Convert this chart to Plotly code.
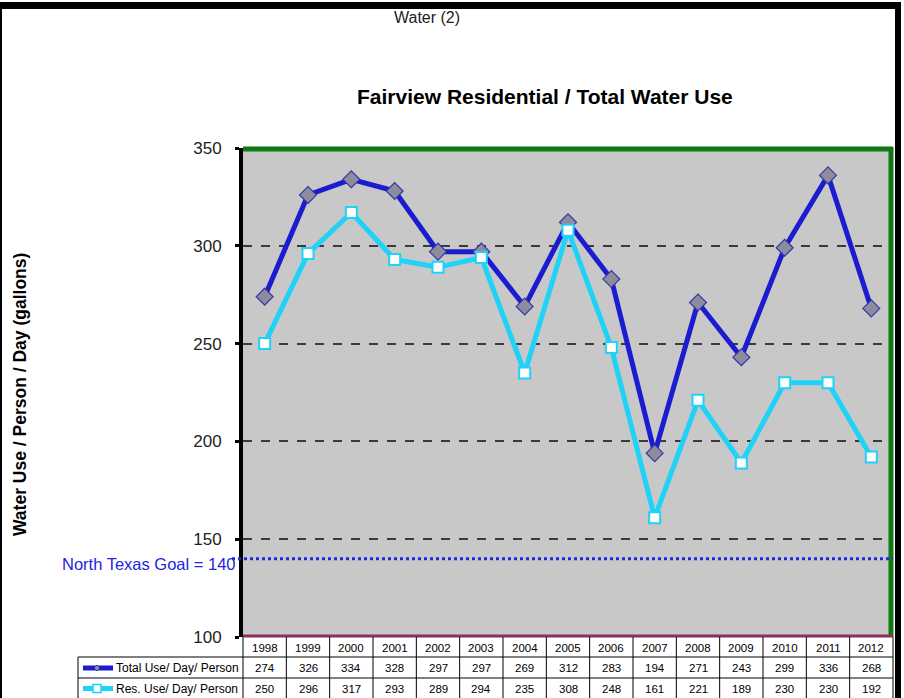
import plotly.graph_objects as go

years = ["1998", "1999", "2000", "2001", "2002", "2003", "2004", "2005",
         "2006", "2007", "2008", "2009", "2010", "2011", "2012"]
total_use = [274, 326, 334, 328, 297, 297, 269, 312, 283, 194, 271, 243, 299, 336, 268]
res_use = [250, 296, 317, 293, 289, 294, 235, 308, 248, 161, 221, 189, 230, 230, 192]
series_names = ["Total Use/ Day/ Person", "Res. Use/ Day/ Person"]
goal_value = 140
goal_label = "North Texas Goal = 140"
y_min, y_max = 100, 350

W, H = 904, 698
L, R, T, B = 243, 893, 148, 637  # plot area in pixels

def px(x):
    return (x - L) / (R - L)

def py(y):
    return (B - y) / (B - T)

FONT = "Liberation Sans, Arial, sans-serif"
BLUE = "#1b1bd0"
CYAN = "#1fd2f7"

fig = go.Figure()
fig.add_trace(go.Scatter(
    x=years, y=total_use, mode="lines+markers", name=series_names[0],
    line=dict(color=BLUE, width=5),
    marker=dict(symbol="diamond", size=13, color="#8c8c9c",
                line=dict(color="#3636a8", width=1.2)),
))
fig.add_trace(go.Scatter(
    x=years, y=res_use, mode="lines+markers", name=series_names[1],
    line=dict(color=CYAN, width=5),
    marker=dict(symbol="square", size=11, color="white",
                line=dict(color=CYAN, width=2)),
))

shapes = []
annotations = []

def text(x, y, s, size, color="black", xanchor="center", xref="paper", angle=0):
    annotations.append(dict(xref=xref, yref="paper", x=x, y=y, text=s, showarrow=False,
                            xanchor=xanchor, yanchor="middle", textangle=angle,
                            font=dict(family=FONT, size=size, color=color)))

# plot border (green top/right), maroon bottom
shapes.append(dict(type="line", xref="paper", yref="paper", x0=px(243), x1=px(893),
                   y0=py(149), y1=py(149), line=dict(color="#0f7a14", width=5)))
shapes.append(dict(type="line", xref="paper", yref="paper", x0=px(891), x1=px(891),
                   y0=py(147), y1=py(637), line=dict(color="#0f7a14", width=5)))
shapes.append(dict(type="line", xref="paper", yref="paper", x0=px(243), x1=px(893),
                   y0=py(636), y1=py(636), line=dict(color="#8a2e5c", width=3)))

# goal dotted line
gy = (goal_value - y_min) / (y_max - y_min)
shapes.append(dict(type="line", xref="paper", yref="paper", x0=px(232), x1=px(893),
                   y0=gy, y1=gy, line=dict(color="#2323e6", width=3, dash="dot")))
text(px(238), gy - 0.011, goal_label, 16.5, color="#2323e0", xanchor="right")

# outer frame
shapes.append(dict(type="rect", xref="paper", yref="paper", x0=px(0), x1=px(2),
                   y0=py(698), y1=py(2), fillcolor="black", line=dict(width=0)))
shapes.append(dict(type="rect", xref="paper", yref="paper", x0=px(0), x1=px(901),
                   y0=py(9), y1=py(2), fillcolor="black", line=dict(width=0)))
shapes.append(dict(type="rect", xref="paper", yref="paper", x0=px(895), x1=px(901),
                   y0=py(698), y1=py(2), fillcolor="black", line=dict(width=0)))

# data table below plot
n = len(years)
colw = (R - L) / n
tl = dict(color="black", width=1)
for yy in (657, 678):
    shapes.append(dict(type="line", xref="paper", yref="paper", x0=px(78), x1=px(R),
                       y0=py(yy), y1=py(yy), line=tl))
shapes.append(dict(type="line", xref="paper", yref="paper", x0=px(78), x1=px(78),
                   y0=py(698), y1=py(657), line=tl))
for k in range(n + 1):
    xk = L + k * colw
    shapes.append(dict(type="line", xref="paper", yref="paper", x0=px(xk), x1=px(xk),
                       y0=py(698), y1=py(637), line=tl))

row_centers = [647.5, 668, 688.5]
for i, yr in enumerate(years):
    text(i, py(row_centers[0]), yr, 11.5, xref="x")
    text(i, py(row_centers[1]), str(total_use[i]), 11.5, xref="x")
    text(i, py(row_centers[2]), str(res_use[i]), 11.5, xref="x")

# legend keys in table
for r, (name, col) in enumerate(zip(series_names, [BLUE, CYAN])):
    yc = row_centers[r + 1]
    shapes.append(dict(type="line", xref="paper", yref="paper", x0=px(83), x1=px(113),
                       y0=py(yc), y1=py(yc), line=dict(color=col, width=5)))
    text(px(114), py(yc), name, 12, xanchor="left")
cx = 97
yc = row_centers[1]
shapes.append(dict(type="path", xref="paper", yref="paper",
                   path=f"M {px(cx)},{py(yc-3)} L {px(cx+3)},{py(yc)} L {px(cx)},{py(yc+3)} L {px(cx-3)},{py(yc)} Z",
                   fillcolor="#8c8c9c", line=dict(color="#3636a8", width=1)))
yc = row_centers[2]
shapes.append(dict(type="rect", xref="paper", yref="paper", x0=px(cx - 4), x1=px(cx + 4),
                   y0=py(yc + 4), y1=py(yc - 4), fillcolor="white",
                   line=dict(color=CYAN, width=1.5)))

# titles
text(px(545), py(96), "<b>Fairview Residential / Total Water Use</b>", 21)
text(px(427), py(18), "Water (2)", 16, color="#222")
text(px(20), py(395), "<b>Water Use / Person / Day (gallons)</b>", 17.5, angle=-90)

fig.update_layout(
    width=W, height=H,
    margin=dict(l=L, r=W - R, t=T, b=H - B, pad=0),
    paper_bgcolor="white",
    plot_bgcolor="#c8c8c8",
    showlegend=False,
    shapes=shapes,
    annotations=annotations,
    xaxis=dict(type="category", range=[-0.5, n - 0.5], showticklabels=False,
               showgrid=False, zeroline=False, ticks=""),
    yaxis=dict(range=[y_min, y_max], dtick=50, showgrid=True, gridcolor="#3a3a3a",
               gridwidth=1.5, griddash="dash", zeroline=False,
               showline=True, linecolor="black", linewidth=4,
               ticks="outside", ticklen=4, tickwidth=3, tickcolor="black",
               ticklabelstandoff=10,
               tickfont=dict(family=FONT, size=17, color="#222")),
)

fig.write_html("out.html", config={"displayModeBar": False},
               post_script="document.body.style.margin='0px';")
